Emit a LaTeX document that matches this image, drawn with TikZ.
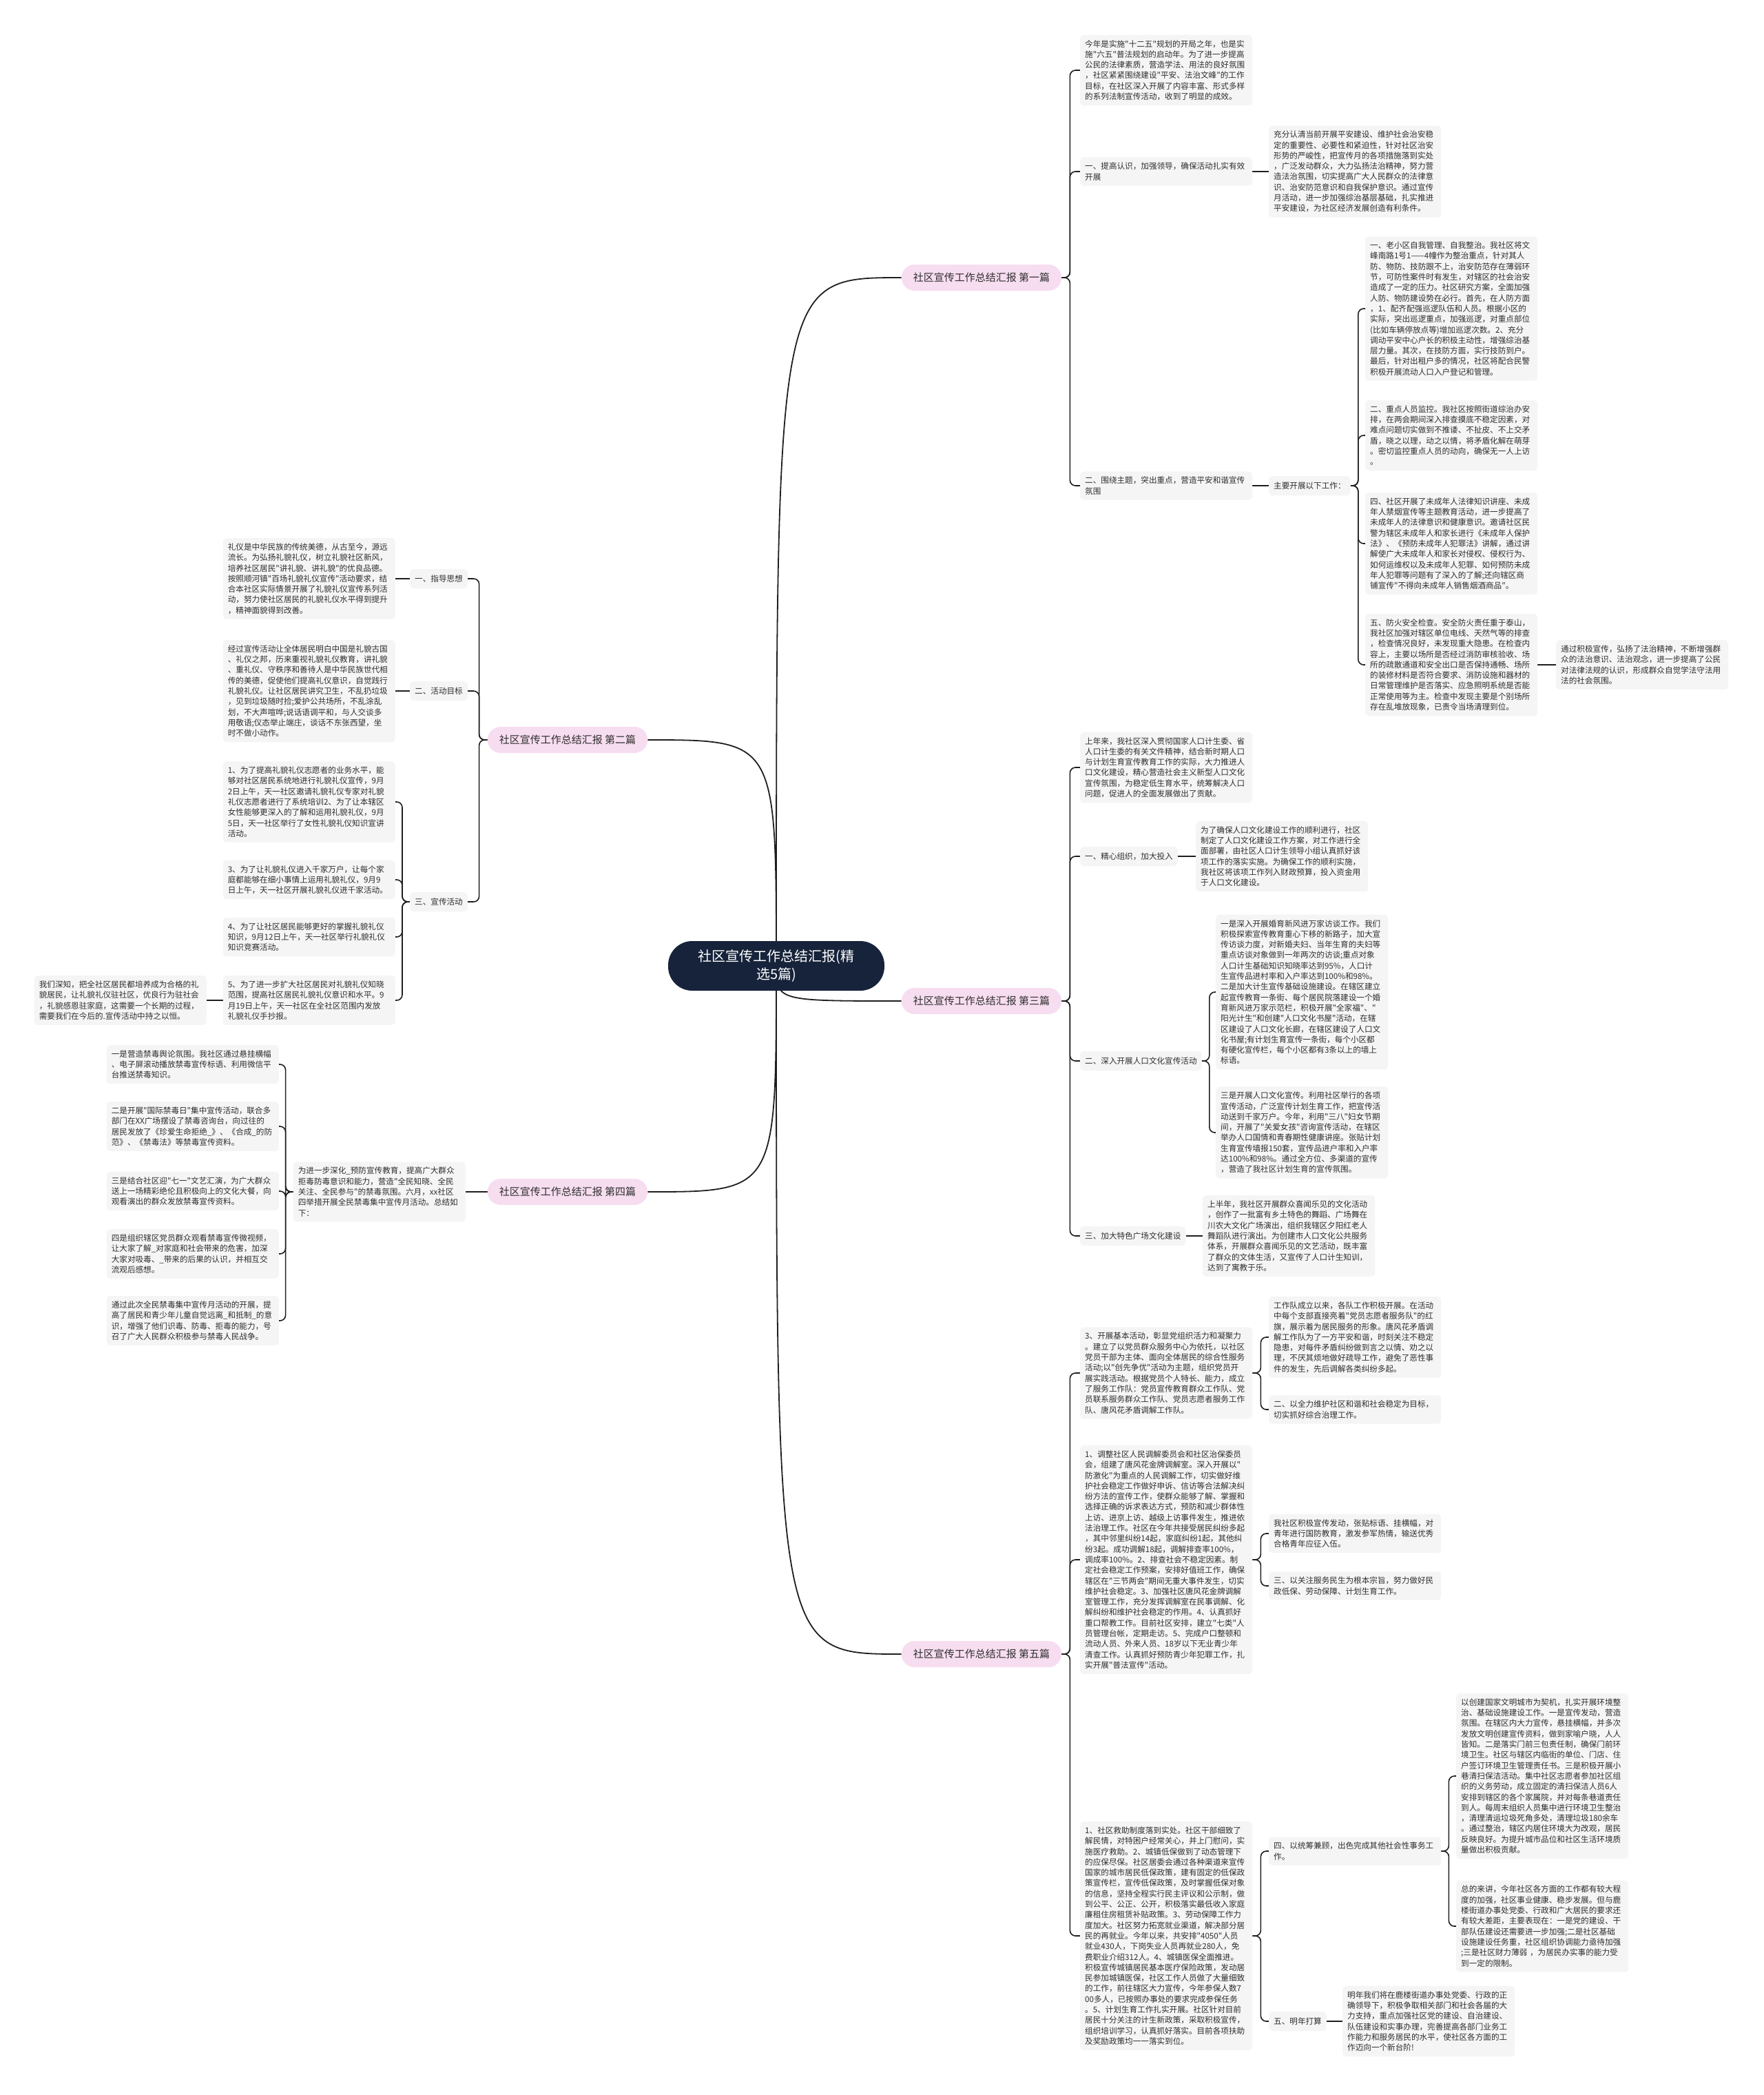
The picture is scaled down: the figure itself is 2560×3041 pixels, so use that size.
\documentclass[tikz,border=0pt]{standalone}
\usepackage{fontspec}
\newfontfamily\cjk{Noto Sans CJK SC}
\usepackage{xcolor}
\usetikzlibrary{backgrounds}

\definecolor{rootnavy}{HTML}{16233A}
\definecolor{branchpink}{HTML}{F7DDF0}
\definecolor{boxgray}{HTML}{F5F5F5}
\definecolor{textdark}{HTML}{2E2E2E}
\definecolor{linedark}{HTML}{1E1E1E}

\begin{document}
\begin{tikzpicture}[
    x=1pt, y=-1pt,
    rootbox/.style={
        rectangle,
        rounded corners=35pt,
        fill=rootnavy,
        text=white,
        align=center,
        minimum width=314pt,
        minimum height=72pt,
        font=\cjk\fontsize{20}{26}\selectfont
    },
    branchbox/.style={
        rectangle,
        rounded corners=19pt,
        fill=branchpink,
        text=textdark,
        minimum height=38pt,
        inner xsep=17pt,
        font=\cjk\fontsize{15}{18}\selectfont
    },
    textbox/.style={
        rectangle,
        rounded corners=5pt,
        fill=boxgray,
        text=textdark,
        align=left,
        text width=236pt,
        inner xsep=7pt,
        inner ysep=7.5pt,
        font=\cjk\fontsize{11.6}{15.3}\selectfont
    },
    shortbox/.style={
        rectangle,
        rounded corners=5pt,
        fill=boxgray,
        text=textdark,
        minimum height=28pt,
        inner xsep=7pt,
        inner ysep=7.5pt,
        font=\cjk\fontsize{11.6}{15.3}\selectfont
    },
    rootlink/.style={
        draw=linedark,
        line width=1.8pt
    },
    link/.style={
        draw=linedark,
        line width=1.6pt,
        rounded corners=8pt
    }
]

\useasboundingbox (0,0) rectangle (2560,3041);

% =========================
% Root and branches
% =========================

\node[rootbox] (root) at (1127,1402)
{社区宣传工作总结汇报(精\\选5篇)};

\node[branchbox] (b1) at (1425,403) {社区宣传工作总结汇报 第一篇};
\node[branchbox] (b2) at (824,1074) {社区宣传工作总结汇报 第二篇};
\node[branchbox] (b3) at (1425,1453) {社区宣传工作总结汇报 第三篇};
\node[branchbox] (b4) at (824,1730) {社区宣传工作总结汇报 第四篇};
\node[branchbox] (b5) at (1425,2401) {社区宣传工作总结汇报 第五篇};

% =========================
% First report
% =========================

\node[textbox, anchor=west] (b1intro) at (1568,102)
{今年是实施"十二五"规划的开局之年，也是实\\
施"六五"普法规划的启动年。为了进一步提高\\
公民的法律素质，营造学法、用法的良好氛围\\
，社区紧紧围绕建设"平安、法治文峰"的工作\\
目标，在社区深入开展了内容丰富、形式多样\\
的系列法制宣传活动，收到了明显的成效。};

\node[textbox, anchor=west] (b1one) at (1568,249)
{一、提高认识，加强领导，确保活动扎实有效\\
开展};

\node[textbox, anchor=west] (b1oneA) at (1842,249)
{充分认清当前开展平安建设、维护社会治安稳\\
定的重要性、必要性和紧迫性，针对社区治安\\
形势的严峻性，把宣传月的各项措施落到实处\\
，广泛发动群众，大力弘扬法治精神，努力营\\
造法治氛围，切实提高广大人民群众的法律意\\
识、治安防范意识和自我保护意识。通过宣传\\
月活动，进一步加强综治基层基础，扎实推进\\
平安建设，为社区经济发展创造有利条件。};

\node[textbox, anchor=west] (b1two) at (1568,705)
{二、围绕主题，突出重点，营造平安和谐宣传\\
氛围};

\node[shortbox, anchor=west] (b1main) at (1842,705)
{主要开展以下工作：};

\node[textbox, anchor=west] (b1w1) at (1982,448)
{一、老小区自我管理、自我整治。我社区将文\\
峰南路1号1——4幢作为整治重点，针对其人\\
防、物防、技防跟不上，治安防范存在薄弱环\\
节，可防性案件时有发生，对辖区的社会治安\\
造成了一定的压力。社区研究方案，全面加强\\
人防、物防建设势在必行。首先，在人防方面\\
，1、配齐配强巡逻队伍和人员。根据小区的\\
实际，突出巡逻重点，加强巡逻，对重点部位\\
(比如车辆停放点等)增加巡逻次数。2、充分\\
调动平安中心户长的积极主动性，增强综治基\\
层力量。其次，在技防方面，实行技防到户。\\
最后，针对出租户多的情况，社区将配合民警\\
积极开展流动人口入户登记和管理。};

\node[textbox, anchor=west] (b1w2) at (1982,632)
{二、重点人员监控。我社区按照街道综治办安\\
排，在两会期间深入排查摸底不稳定因素，对\\
难点问题切实做到不推诿、不扯皮、不上交矛\\
盾，晓之以理，动之以情，将矛盾化解在萌芽\\
。密切监控重点人员的动向，确保无一人上访\\
。};

\node[textbox, anchor=west] (b1w4) at (1982,789)
{四、社区开展了未成年人法律知识讲座、未成\\
年人禁烟宣传等主题教育活动，进一步提高了\\
未成年人的法律意识和健康意识。邀请社区民\\
警为辖区未成年人和家长进行《未成年人保护\\
法》、《预防未成年人犯罪法》讲解，通过讲\\
解使广大未成年人和家长对侵权、侵权行为、\\
如何运维权以及未成年人犯罪、如何预防未成\\
年人犯罪等问题有了深入的了解;还向辖区商\\
铺宣传"不得向未成年人销售烟酒商品"。};

\node[textbox, anchor=west] (b1w5) at (1982,965)
{五、防火安全检查。安全防火责任重于泰山，\\
我社区加强对辖区单位电线、天然气等的排查\\
，检查情况良好，未发现重大隐患。在检查内\\
容上，主要以场所是否经过消防审核验收、场\\
所的疏散通道和安全出口是否保持通畅、场所\\
的装修材料是否符合要求、消防设施和器材的\\
日常管理维护是否落实、应急照明系统是否能\\
正常使用等为主。检查中发现主要是个别场所\\
存在乱堆放现象，已责令当场清理到位。};

\node[textbox, anchor=west] (b1w5A) at (2259,965)
{通过积极宣传，弘扬了法治精神，不断增强群\\
众的法治意识、法治观念，进一步提高了公民\\
对法律法规的认识，形成群众自觉学法守法用\\
法的社会氛围。};

% =========================
% Second report
% =========================

\node[shortbox, anchor=east] (b2one) at (679,840) {一、指导思想};

\node[textbox, anchor=east] (b2oneA) at (574,840)
{礼仪是中华民族的传统美德，从古至今，源远\\
流长。为弘扬礼貌礼仪，树立礼貌社区新风，\\
培养社区居民"讲礼貌、讲礼貌"的优良品德。\\
按照顺河镇"百场礼貌礼仪宣传"活动要求，结\\
合本社区实际情景开展了礼貌礼仪宣传系列活\\
动，努力使社区居民的礼貌礼仪水平得到提升\\
，精神面貌得到改善。};

\node[shortbox, anchor=east] (b2two) at (679,1003) {二、活动目标};

\node[textbox, anchor=east] (b2twoA) at (574,1003)
{经过宣传活动让全体居民明白中国是礼貌古国\\
、礼仪之邦，历来重视礼貌礼仪教育，讲礼貌\\
、重礼仪、守秩序和善待人是中华民族世代相\\
传的美德，促使他们提高礼仪意识，自觉践行\\
礼貌礼仪。让社区居民讲究卫生，不乱扔垃圾\\
，见到垃圾随时捡;爱护公共场所，不乱涂乱\\
划，不大声喧哗;说话语调平和，与人交谈多\\
用敬语;仪态举止端庄，谈话不东张西望，坐\\
时不做小动作。};

\node[shortbox, anchor=east] (b2three) at (679,1309) {三、宣传活动};

\node[textbox, anchor=east] (b2act1) at (574,1164)
{1、为了提高礼貌礼仪志愿者的业务水平，能\\
够对社区居民系统地进行礼貌礼仪宣传，9月\\
2日上午，天一社区邀请礼貌礼仪专家对礼貌\\
礼仪志愿者进行了系统培训2、为了让本辖区\\
女性能够更深入的了解和运用礼貌礼仪，9月\\
5日，天一社区举行了女性礼貌礼仪知识宣讲\\
活动。};

\node[textbox, anchor=east] (b2act3) at (574,1277)
{3、为了让礼貌礼仪进入千家万户，让每个家\\
庭都能够在细小事情上运用礼貌礼仪，9月9\\
日上午，天一社区开展礼貌礼仪进千家活动。};

\node[textbox, anchor=east] (b2act4) at (574,1360)
{4、为了让社区居民能够更好的掌握礼貌礼仪\\
知识，9月12日上午，天一社区举行礼貌礼仪\\
知识竞赛活动。};

\node[textbox, anchor=east] (b2act5) at (574,1452)
{5、为了进一步扩大社区居民对礼貌礼仪知晓\\
范围，提高社区居民礼貌礼仪意识和水平。9\\
月19日上午，天一社区在全社区范围内发放\\
礼貌礼仪手抄报。};

\node[textbox, anchor=east] (b2act5A) at (300,1452)
{我们深知，把全社区居民都培养成为合格的礼\\
貌居民，让礼貌礼仪驻社区，优良行为驻社会\\
，礼貌感恩驻家庭，这需要一个长期的过程，\\
需要我们在今后的.宣传活动中持之以恒。};

% =========================
% Third report
% =========================

\node[textbox, anchor=west] (b3intro) at (1568,1114)
{上年来，我社区深入贯彻国家人口计生委、省\\
人口计生委的有关文件精神，结合新时期人口\\
与计划生育宣传教育工作的实际，大力推进人\\
口文化建设，精心营造社会主义新型人口文化\\
宣传氛围，为稳定低生育水平，统筹解决人口\\
问题，促进人的全面发展做出了贡献。};

\node[shortbox, anchor=west] (b3one) at (1568,1243) {一、精心组织，加大投入};

\node[textbox, anchor=west] (b3oneA) at (1736,1243)
{为了确保人口文化建设工作的顺利进行，社区\\
制定了人口文化建设工作方案，对工作进行全\\
面部署，由社区人口计生领导小组认真抓好该\\
项工作的落实实施。为确保工作的顺利实施，\\
我社区将该项工作列入财政预算，投入资金用\\
于人口文化建设。};

\node[shortbox, anchor=west] (b3two) at (1568,1540) {二、深入开展人口文化宣传活动};

\node[textbox, anchor=west] (b3twoA) at (1765,1440)
{一是深入开展婚育新风进万家访谈工作。我们\\
积极探索宣传教育重心下移的新路子，加大宣\\
传访谈力度，对新婚夫妇、当年生育的夫妇等\\
重点访谈对象做到一年两次的访谈;重点对象\\
人口计生基础知识知晓率达到95\%，人口计\\
生宣传品进村率和入户率达到100\%和98\%。\\
二是加大计生宣传基础设施建设。在辖区建立\\
起宣传教育一条街、每个居民院落建设一个婚\\
育新风进万家示范栏，积极开展"全家福"、"\\
阳光计生"和创建"人口文化书屋"活动，在辖\\
区建设了人口文化长廊，在辖区建设了人口文\\
化书屋;有计划生育宣传一条街，每个小区都\\
有硬化宣传栏，每个小区都有3条以上的墙上\\
标语。};

\node[textbox, anchor=west] (b3twoB) at (1765,1644)
{三是开展人口文化宣传。利用社区举行的各项\\
宣传活动，广泛宣传计划生育工作，把宣传活\\
动送到千家万户。今年，利用"三八"妇女节期\\
间，开展了"关爱女孩"咨询宣传活动，在辖区\\
举办人口国情和青春期性健康讲座。张贴计划\\
生育宣传墙报150套，宣传品进户率和入户率\\
达100\%和98\%。通过全方位、多渠道的宣传\\
，营造了我社区计划生育的宣传氛围。};

\node[shortbox, anchor=west] (b3three) at (1568,1794) {三、加大特色广场文化建设};

\node[textbox, anchor=west] (b3threeA) at (1746,1794)
{上半年，我社区开展群众喜闻乐见的文化活动\\
，创作了一批富有乡土特色的舞蹈、广场舞在\\
川农大文化广场演出，组织我辖区夕阳红老人\\
舞蹈队进行演出。为创建市人口文化公共服务\\
体系，开展群众喜闻乐见的文艺活动，既丰富\\
了群众的文体生活，又宣传了人口计生知训，\\
达到了寓教于乐。};

% =========================
% Fourth report
% =========================

\node[textbox, anchor=east] (b4main) at (676,1730)
{为进一步深化\_预防宣传教育，提高广大群众\\
拒毒防毒意识和能力，营造"全民知晓、全民\\
关注、全民参与"的禁毒氛围。六月，xx社区\\
四举措开展全民禁毒集中宣传月活动。总结如\\
下：};

\node[textbox, anchor=east] (b4one) at (405,1545)
{一是营造禁毒舆论氛围。我社区通过悬挂横幅\\
、电子屏滚动播放禁毒宣传标语、利用微信平\\
台推送禁毒知识。};

\node[textbox, anchor=east] (b4two) at (405,1635)
{二是开展"国际禁毒日"集中宣传活动，联合多\\
部门在XX广场摆设了禁毒咨询台，向过往的\\
居民发放了《珍爱生命拒绝\_》、《合成\_的防\\
范》、《禁毒法》等禁毒宣传资料。};

\node[textbox, anchor=east] (b4three) at (405,1729)
{三是结合社区迎"七一"文艺汇演，为广大群众\\
送上一场精彩绝伦且积极向上的文化大餐，向\\
观看演出的群众发放禁毒宣传资料。};

\node[textbox, anchor=east] (b4four) at (405,1820)
{四是组织辖区党员群众观看禁毒宣传微视频，\\
让大家了解\_对家庭和社会带来的危害，加深\\
大家对吸毒、\_带来的后果的认识，并相互交\\
流观后感想。};

\node[textbox, anchor=east] (b4five) at (405,1917)
{通过此次全民禁毒集中宣传月活动的开展，提\\
高了居民和青少年儿童自觉远离\_和抵制\_的意\\
识，增强了他们识毒、防毒、拒毒的能力，号\\
召了广大人民群众积极参与禁毒人民战争。};

% =========================
% Fifth report
% =========================

\node[textbox, anchor=west] (b5a) at (1568,1993)
{3、开展基本活动，彰显党组织活力和凝聚力\\
。建立了以党员群众服务中心为依托，以社区\\
党员干部为主体、面向全体居民的综合性服务\\
活动;以"创先争优"活动为主题，组织党员开\\
展实践活动。根据党员个人特长、能力，成立\\
了服务工作队：党员宣传教育群众工作队、党\\
员联系服务群众工作队、党员志愿者服务工作\\
队、唐风花矛盾调解工作队。};

\node[textbox, anchor=west] (b5aA) at (1842,1941)
{工作队成立以来，各队工作积极开展。在活动\\
中每个支部直接亮着"党员志愿者服务队"的红\\
旗，展示着为居民服务的形象。唐风花矛盾调\\
解工作队为了一方平安和谐，时刻关注不稳定\\
隐患，对每件矛盾纠纷做到言之以情、劝之以\\
理，不厌其烦地做好疏导工作，避免了恶性事\\
件的发生，先后调解各类纠纷多起。};

\node[textbox, anchor=west] (b5aB) at (1842,2046)
{二、以全力维护社区和谐和社会稳定为目标，\\
切实抓好综合治理工作。};

\node[textbox, anchor=west] (b5b) at (1568,2264)
{1、调整社区人民调解委员会和社区治保委员\\
会，组建了唐风花金牌调解室。深入开展以"\\
防激化"为重点的人民调解工作，切实做好维\\
护社会稳定工作做好申诉、信访等合法解决纠\\
纷方法的宣传工作，使群众能够了解、掌握和\\
选择正确的诉求表达方式，预防和减少群体性\\
上访、进京上访、越级上访事件发生，推进依\\
法治理工作。社区在今年共接受居民纠纷多起\\
，其中邻里纠纷14起，家庭纠纷1起，其他纠\\
纷3起。成功调解18起，调解排查率100\%，\\
调成率100\%。2、排查社会不稳定因素。制\\
定社会稳定工作预案，安排好值班工作，确保\\
辖区在"三节两会"期间无重大事件发生，切实\\
维护社会稳定。3、加强社区唐风花金牌调解\\
室管理工作，充分发挥调解室在民事调解、化\\
解纠纷和维护社会稳定的作用。4、认真抓好\\
重口帮教工作。目前社区安排，建立"七类"人\\
员管理台帐，定期走访。5、完成户口整顿和\\
流动人员、外来人员、18岁以下无业青少年\\
清查工作。认真抓好预防青少年犯罪工作，扎\\
实开展"普法宣传"活动。};

\node[textbox, anchor=west] (b5bA) at (1842,2226)
{我社区积极宣传发动，张贴标语、挂横幅，对\\
青年进行国防教育，激发参军热情，输送优秀\\
合格青年应征入伍。};

\node[textbox, anchor=west] (b5bB) at (1842,2302)
{三、以关注服务民生为根本宗旨，努力做好民\\
政低保、劳动保障、计划生育工作。};

\node[textbox, anchor=west] (b5c) at (1568,2810)
{1、社区救助制度落到实处。社区干部细致了\\
解民情，对特困户经常关心，并上门慰问，实\\
施医疗救助。2、城镇低保做到了动态管理下\\
的应保尽保。社区居委会通过各种渠道来宣传\\
国家的城市居民低保政策，建有固定的低保政\\
策宣传栏，宣传低保政策，及时掌握低保对象\\
的信息，坚持全程实行民主评议和公示制，做\\
到公平、公正、公开，积极落实最低收入家庭\\
廉租住房租赁补贴政策。3、劳动保障工作力\\
度加大。社区努力拓宽就业渠道，解决部分居\\
民的再就业。今年以来，共安排"4050"人员\\
就业430人，下岗失业人员再就业280人，免\\
费职业介绍312人。4、城镇医保全面推进。\\
积极宣传城镇居民基本医疗保险政策，发动居\\
民参加城镇医保，社区工作人员做了大量细致\\
的工作，前往辖区大力宣传，今年参保人数7\\
00多人，已按照办事处的要求完成参保任务\\
。5、计划生育工作扎实开展。社区针对目前\\
居民十分关注的计生新政策，采取积极宣传，\\
组织培训学习，认真抓好落实。目前各项扶助\\
及奖励政策均一一落实到位。};

\node[textbox, anchor=west] (b5four) at (1842,2687)
{四、以统筹兼顾，出色完成其他社会性事务工\\
作。};

\node[textbox, anchor=west] (b5fourA) at (2114,2578)
{以创建国家文明城市为契机，扎实开展环境整\\
治、基础设施建设工作。一是宣传发动，营造\\
氛围。在辖区内大力宣传，悬挂横幅，并多次\\
发放文明创建宣传资料，做到家喻户晓，人人\\
皆知。二是落实门前三包责任制，确保门前环\\
境卫生。社区与辖区内临街的单位、门店、住\\
户签订环境卫生管理责任书。三是积极开展小\\
巷清扫保洁活动。集中社区志愿者参加社区组\\
织的义务劳动，成立固定的清扫保洁人员6人\\
安排到辖区的各个家属院，并对每条巷道责任\\
到人。每周末组织人员集中进行环境卫生整治\\
，清理清运垃圾死角多处，清理垃圾180余车\\
。通过整治，辖区内居住环境大为改观，居民\\
反映良好。为提升城市品位和社区生活环境质\\
量做出积极贡献。};

\node[textbox, anchor=west] (b5fourB) at (2114,2796)
{总的来讲，今年社区各方面的工作都有较大程\\
度的加强，社区事业健康、稳步发展。但与鹿\\
楼街道办事处党委、行政和广大居民的要求还\\
有较大差距，主要表现在：一是党的建设、干\\
部队伍建设还需要进一步加强;二是社区基础\\
设施建设任务重，社区组织协调能力亟待加强\\
;三是社区财力薄弱~，为居民办实事的能力受\\
到一定的限制。};

\node[shortbox, anchor=west] (b5five) at (1842,2934) {五、明年打算};

\node[textbox, anchor=west] (b5fiveA) at (1949,2934)
{明年我们将在鹿楼街道办事处党委、行政的正\\
确领导下，积极争取相关部门和社会各届的大\\
力支持，重点加强社区党的建设、自治建设、\\
队伍建设和实事办理，完善提高各部门业务工\\
作能力和服务居民的水平，使社区各方面的工\\
作迈向一个新台阶!};

% =========================
% Connectors (behind the boxes)
% =========================

\begin{pgfonlayer}{background}
\fill[white] (0,0) rectangle (2560,3041);

% root to branches
\draw[rootlink] (root.center) .. controls (root.center |- b1.west) .. (b1.west);
\draw[rootlink] (root.center) .. controls (root.center |- b2.east) .. (b2.east);
\draw[rootlink] (root.center) .. controls (root.center |- b3.west) .. (b3.west);
\draw[rootlink] (root.center) .. controls (root.center |- b4.east) .. (b4.east);
\draw[rootlink] (root.center) .. controls (root.center |- b5.west) .. (b5.west);

% first report
\draw[link] (b1.east) -- ++(12,0) |- (b1intro.west);
\draw[link] (b1.east) -- ++(12,0) |- (b1one.west);
\draw[link] (b1.east) -- ++(12,0) |- (b1two.west);
\draw[link] (b1one.east) -- (b1oneA.west);
\draw[link] (b1two.east) -- (b1main.west);
\draw[link] (b1main.east) -- ++(11,0) |- (b1w1.west);
\draw[link] (b1main.east) -- ++(11,0) |- (b1w2.west);
\draw[link] (b1main.east) -- ++(11,0) |- (b1w4.west);
\draw[link] (b1main.east) -- ++(11,0) |- (b1w5.west);
\draw[link] (b1w5.east) -- (b1w5A.west);

% second report
\draw[link] (b2.west) -- ++(-12,0) |- (b2one.east);
\draw[link] (b2.west) -- ++(-12,0) |- (b2two.east);
\draw[link] (b2.west) -- ++(-12,0) |- (b2three.east);
\draw[link] (b2one.west) -- (b2oneA.east);
\draw[link] (b2two.west) -- (b2twoA.east);
\draw[link] (b2three.west) -- ++(-11,0) |- (b2act1.east);
\draw[link] (b2three.west) -- ++(-11,0) |- (b2act3.east);
\draw[link] (b2three.west) -- ++(-11,0) |- (b2act4.east);
\draw[link] (b2three.west) -- ++(-11,0) |- (b2act5.east);
\draw[link] (b2act5.west) -- (b2act5A.east);

% third report
\draw[link] (b3.east) -- ++(12,0) |- (b3intro.west);
\draw[link] (b3.east) -- ++(12,0) |- (b3one.west);
\draw[link] (b3.east) -- ++(12,0) |- (b3two.west);
\draw[link] (b3.east) -- ++(12,0) |- (b3three.west);
\draw[link] (b3one.east) -- (b3oneA.west);
\draw[link] (b3two.east) -- ++(11,0) |- (b3twoA.west);
\draw[link] (b3two.east) -- ++(11,0) |- (b3twoB.west);
\draw[link] (b3three.east) -- (b3threeA.west);

% fourth report
\draw[link] (b4.west) -- (b4main.east);
\draw[link] (b4main.west) -- ++(-11,0) |- (b4one.east);
\draw[link] (b4main.west) -- ++(-11,0) |- (b4two.east);
\draw[link] (b4main.west) -- ++(-11,0) |- (b4three.east);
\draw[link] (b4main.west) -- ++(-11,0) |- (b4four.east);
\draw[link] (b4main.west) -- ++(-11,0) |- (b4five.east);

% fifth report
\draw[link] (b5.east) -- ++(12,0) |- (b5a.west);
\draw[link] (b5.east) -- ++(12,0) |- (b5b.west);
\draw[link] (b5.east) -- ++(12,0) |- (b5c.west);
\draw[link] (b5a.east) -- ++(12,0) |- (b5aA.west);
\draw[link] (b5a.east) -- ++(12,0) |- (b5aB.west);
\draw[link] (b5b.east) -- ++(12,0) |- (b5bA.west);
\draw[link] (b5b.east) -- ++(12,0) |- (b5bB.west);
\draw[link] (b5c.east) -- ++(12,0) |- (b5four.west);
\draw[link] (b5c.east) -- ++(12,0) |- (b5five.west);
\draw[link] (b5four.east) -- ++(11,0) |- (b5fourA.west);
\draw[link] (b5four.east) -- ++(11,0) |- (b5fourB.west);
\draw[link] (b5five.east) -- (b5fiveA.west);
\end{pgfonlayer}

\end{tikzpicture}
\end{document}
